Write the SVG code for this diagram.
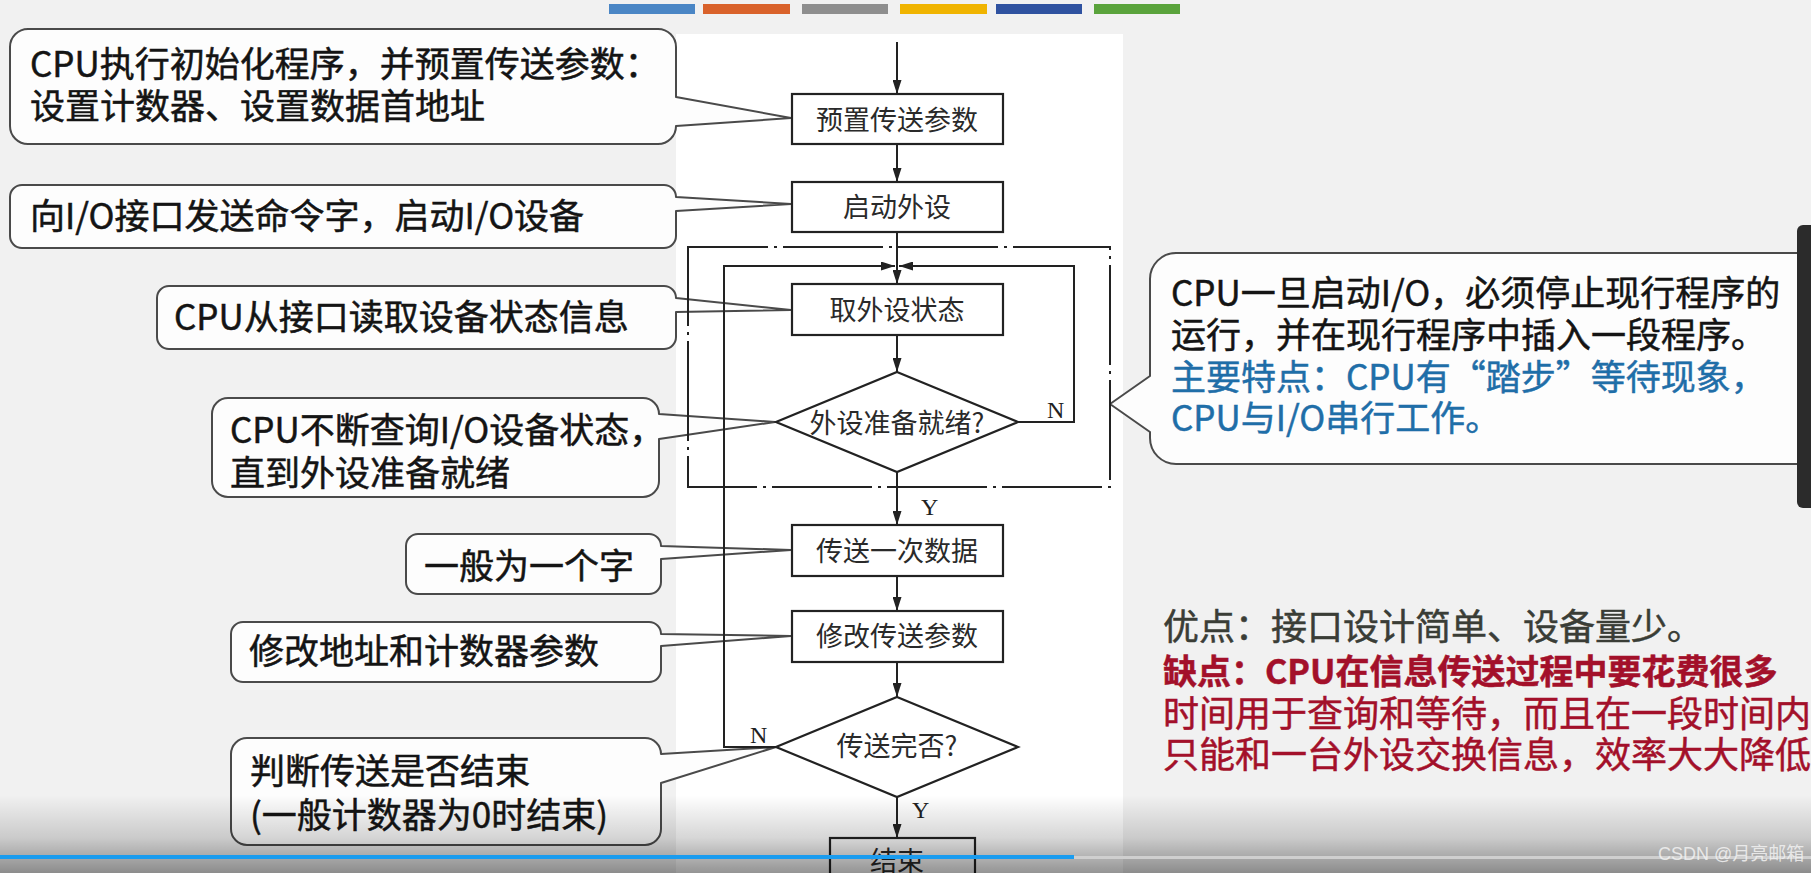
<svg xmlns="http://www.w3.org/2000/svg" width="1811" height="873" viewBox="0 0 1811 873">
<style>
.bubble{fill:#fdfdfd;stroke:#4a4a4a;stroke-width:2;stroke-linejoin:round}
.bt{font-family:"Noto Sans CJK SC","Noto Sans",sans-serif;font-size:35px;fill:#141414;stroke:#141414;stroke-width:0.5}
.pc{font-family:"Noto Sans CJK SC","Noto Sans",sans-serif;font-size:36px;stroke-width:0.5}
.pcb{font-size:34px;font-weight:700}
.box{fill:#fff;stroke:#222;stroke-width:2.2}
.ft{font-family:"Noto Sans CJK SC",sans-serif;font-size:27px;fill:#2a2a2a;text-anchor:middle}
.yn{font-family:"Liberation Serif",serif;font-size:24px;fill:#222}
.ln{fill:none;stroke:#222;stroke-width:2}
.arr{marker-end:url(#ah)}
.frame{fill:none;stroke:#222;stroke-width:2;stroke-dasharray:100 6 3 6;stroke-dashoffset:20}
.blue{fill:#1f6ea8;stroke:#1f6ea8}
.red{fill:#a3102a;stroke:#a3102a}
.gray{fill:#3a3d36;stroke:#3a3d36}
</style>
<defs>
<marker id="ah" markerUnits="userSpaceOnUse" markerWidth="14" markerHeight="9" viewBox="0 0 14 9" refX="14" refY="4.5" orient="auto">
<path d="M0,0 L14,4.5 L0,9 Z" fill="#222"/>
</marker>
<linearGradient id="shade" x1="0" y1="0" x2="0" y2="1">
<stop offset="0" stop-color="#000" stop-opacity="0"/>
<stop offset="0.55" stop-color="#000" stop-opacity="0.16"/>
<stop offset="1" stop-color="#000" stop-opacity="0.42"/>
</linearGradient>
</defs>

<rect x="0" y="0" width="1811" height="873" fill="#f1f1f1"/>
<rect x="676" y="34" width="447" height="839" fill="#ffffff"/>

<g id="color-bars">
<rect x="609" y="4" width="86" height="10" fill="#4a86c5"/>
<rect x="703" y="4" width="87" height="10" fill="#d9622b"/>
<rect x="802" y="4" width="86" height="10" fill="#8e8e8e"/>
<rect x="900" y="4" width="87" height="10" fill="#f0b400"/>
<rect x="996" y="4" width="86" height="10" fill="#2f52a0"/>
<rect x="1094" y="4" width="86" height="10" fill="#5aa33c"/>
</g>

<g id="bubble-init">
<path class="bubble" d="M28,29 H658 A18,18 0 0 1 676,47 V97 L791,118 L676,126 A18,18 0 0 1 658,144 H28 A18,18 0 0 1 10,126 V47 A18,18 0 0 1 28,29 Z"/>
<text class="bt" x="30" y="77">CPU执行初始化程序，并预置传送参数：</text>
<text class="bt" x="30" y="119">设置计数器、设置数据首地址</text>
</g>
<g id="bubble-start">
<path class="bubble" d="M22,185 H664 A12,12 0 0 1 676,197 L791,204 L676,211 V236 A12,12 0 0 1 664,248 H22 A12,12 0 0 1 10,236 V197 A12,12 0 0 1 22,185 Z"/>
<text class="bt" x="30" y="229">向I/O接口发送命令字，启动I/O设备</text>
</g>
<g id="bubble-read">
<path class="bubble" d="M169,286 H664 A12,12 0 0 1 676,298 L791,310 L676,312 V337 A12,12 0 0 1 664,349 H169 A12,12 0 0 1 157,337 V298 A12,12 0 0 1 169,286 Z"/>
<text class="bt" x="174" y="330">CPU从接口读取设备状态信息</text>
</g>
<g id="bubble-poll">
<path class="bubble" d="M228,398 H643 A16,16 0 0 1 659,414 L775,422 L659,439 V481 A16,16 0 0 1 643,497 H228 A16,16 0 0 1 212,481 V414 A16,16 0 0 1 228,398 Z"/>
<text class="bt" x="230" y="443">CPU不断查询I/O设备状态，</text>
<text class="bt" x="230" y="486">直到外设准备就绪</text>
</g>
<g id="bubble-word">
<path class="bubble" d="M418,534 H649 A12,12 0 0 1 661,546 L791,550 L661,559 V582 A12,12 0 0 1 649,594 H418 A12,12 0 0 1 406,582 V546 A12,12 0 0 1 418,534 Z"/>
<text class="bt" x="424" y="579">一般为一个字</text>
</g>
<g id="bubble-modify">
<path class="bubble" d="M243,622 H649 A12,12 0 0 1 661,634 L791,636 L661,646 V670 A12,12 0 0 1 649,682 H243 A12,12 0 0 1 231,670 V634 A12,12 0 0 1 243,622 Z"/>
<text class="bt" x="249" y="664">修改地址和计数器参数</text>
</g>
<g id="bubble-end">
<path class="bubble" d="M247,738 H645 A16,16 0 0 1 661,754 L776,747 L661,783 V829 A16,16 0 0 1 645,845 H247 A16,16 0 0 1 231,829 V754 A16,16 0 0 1 247,738 Z"/>
<text class="bt" x="250" y="784">判断传送是否结束</text>
<text class="bt" x="250" y="828">(一般计数器为0时结束)</text>
</g>
<g id="bubble-feature">
<path class="bubble" d="M1176,253 H1815 V464 H1176 A26,26 0 0 1 1150,438 V432 L1110,404 L1150,376 V279 A26,26 0 0 1 1176,253 Z"/>
<text class="bt" x="1171" y="306">CPU一旦启动I/O，必须停止现行程序的</text>
<text class="bt" x="1171" y="348">运行，并在现行程序中插入一段程序。</text>
<text class="bt blue" x="1171" y="390">主要特点：CPU有“踏步”等待现象，</text>
<text class="bt blue" x="1171" y="431">CPU与I/O串行工作。</text>
</g>

<g id="loop-frame">
<path class="frame" d="M688,247 H1110 V487 H688 Z"/>
</g>

<g id="connectors">
<line class="ln arr" x1="897" y1="42" x2="897" y2="94"/>
<line class="ln arr" x1="897" y1="144" x2="897" y2="182"/>
<line class="ln arr" x1="897" y1="232" x2="897" y2="284"/>
<line class="ln arr" x1="897" y1="335" x2="897" y2="372"/>
<line class="ln arr" x1="897" y1="472" x2="897" y2="525"/>
<line class="ln arr" x1="897" y1="576" x2="897" y2="611"/>
<line class="ln arr" x1="897" y1="662" x2="897" y2="697"/>
<line class="ln arr" x1="897" y1="797" x2="897" y2="838"/>
<polyline class="ln arr" points="1018,422 1074,422 1074,266 899,266"/>
<polyline class="ln arr" points="776,747 724,747 724,266 895,266"/>
<text class="yn" x="1047" y="418">N</text>
<text class="yn" x="921" y="515">Y</text>
<text class="yn" x="750" y="743">N</text>
<text class="yn" x="912" y="818">Y</text>
</g>

<g id="node-preset">
<rect class="box" x="792" y="94" width="211" height="50"/>
<text class="ft" x="897" y="130">预置传送参数</text>
</g>
<g id="node-start">
<rect class="box" x="792" y="182" width="211" height="50"/>
<text class="ft" x="897" y="217">启动外设</text>
</g>
<g id="node-status">
<rect class="box" x="792" y="284" width="211" height="51"/>
<text class="ft" x="897" y="320">取外设状态</text>
</g>
<g id="node-ready">
<polygon class="box" points="897,372 1018,422 897,472 776,422"/>
<text class="ft" x="897" y="433">外设准备就绪?</text>
</g>
<g id="node-transfer">
<rect class="box" x="792" y="525" width="211" height="51"/>
<text class="ft" x="897" y="561">传送一次数据</text>
</g>
<g id="node-update">
<rect class="box" x="792" y="611" width="211" height="51"/>
<text class="ft" x="897" y="646">修改传送参数</text>
</g>
<g id="node-done">
<polygon class="box" points="897,697 1018,747 897,797 776,747"/>
<text class="ft" x="897" y="756">传送完否?</text>
</g>
<g id="node-end">
<rect class="box" x="830" y="838" width="145" height="50"/>
<text class="ft" x="897" y="871">结束</text>
</g>

<g id="pros-cons">
<text class="pc gray" x="1163" y="640">优点：接口设计简单、设备量少。</text>
<text class="pc pcb red" x="1163" y="684">缺点：CPU在信息传送过程中要花费很多</text>
<text class="pc red" x="1163" y="727">时间用于查询和等待，而且在一段时间内</text>
<text class="pc red" x="1163" y="768">只能和一台外设交换信息，效率大大降低</text>
</g>

<g id="player-overlay">
<rect x="1797" y="225" width="24" height="283" rx="6" fill="#2b2b2b"/>
<rect x="0" y="795" width="1811" height="78" fill="url(#shade)"/>
<rect x="1074" y="856" width="737" height="3" fill="#cfcfcf"/>
<rect x="0" y="855" width="1074" height="4" fill="#1a9cef"/>
<text x="1658" y="860" font-family="'Liberation Sans','Noto Sans CJK SC',sans-serif" font-size="18" fill="#f2f2f2" fill-opacity="0.85">CSDN @月亮邮箱</text>
</g>
</svg>
